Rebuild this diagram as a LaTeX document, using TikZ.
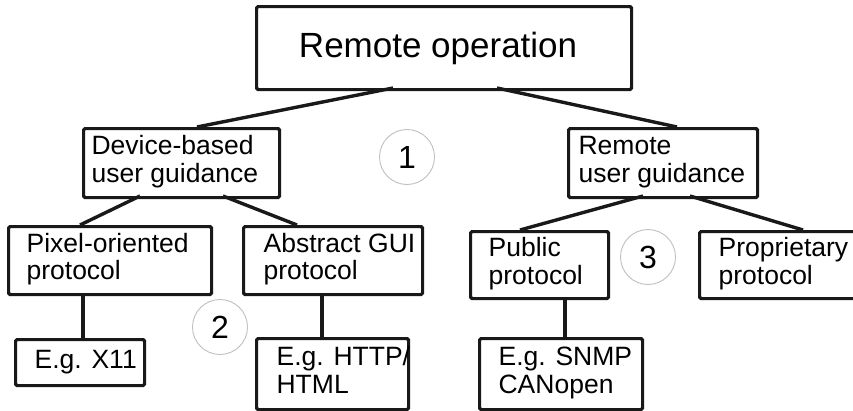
\documentclass[tikz,border=0pt]{standalone}
\usepackage{fontspec}
\setmainfont{Liberation Sans}
% left-padded multi-line label: padding, remaining width, lines
\newcommand{\padtext}[3]{%
  \begin{tabular}{@{\hspace*{#1}}p{#2}@{}}#3\end{tabular}}
\begin{document}
\begin{tikzpicture}[x=1pt,y=-1pt,
  box/.style={draw=black!90, line width=3.2pt, rounded corners=1.5pt, fill=white,
    anchor=north west, inner sep=0pt,
    font=\fontsize{26.5}{27.5}\selectfont},
  link/.style={draw=black!90, line width=3.4pt},
  badge/.style={circle, draw=black!25, line width=0.9pt, minimum size=55pt,
    inner sep=0pt, font=\fontsize{32}{32}\selectfont}]
\useasboundingbox (0,0) rectangle (853,410);

% top node
\node[box, minimum width=375pt, minimum height=83pt,
  font=\fontsize{35}{35}\selectfont] (root) at (255,5) {\hspace*{-12pt}Remote operation};

% second level
\node[box, minimum width=196pt, minimum height=69pt] (dev) at (82,127)
  {\padtext{8pt}{188pt}{Device-based\\user guidance}};
\node[box, minimum width=189pt, minimum height=69pt] (rem) at (567,127)
  {\padtext{10pt}{179pt}{Remote\\user guidance}};

% third level
\node[box, minimum width=203pt, minimum height=68pt] (pix) at (7,225)
  {\padtext{18pt}{185pt}{Pixel-oriented\\protocol}};
\node[box, minimum width=179pt, minimum height=68pt] (abs) at (242,225)
  {\padtext{20pt}{159pt}{\mbox{Abstract GUI}\\protocol}};
\node[box, minimum width=138pt, minimum height=67pt] (pub) at (469,230)
  {\padtext{18pt}{120pt}{Public\\protocol}};
\node[box, minimum width=170pt, minimum height=67pt] (pro) at (698,230)
  {\padtext{19pt}{151pt}{Proprietary\\protocol}};

% leaves
\node[box, minimum width=129pt, minimum height=46pt] (x11) at (14,338)
  {\padtext{19pt}{110pt}{\mbox{E.g. X11}}};
\node[box, minimum width=152pt, minimum height=71pt] (http) at (255,337)
  {\padtext{20pt}{132pt}{\mbox{E.g. HTTP/}\\HTML}};
\node[box, minimum width=163pt, minimum height=71pt] (snmp) at (478,337)
  {\padtext{19pt}{144pt}{\mbox{E.g. SNMP}\\CANopen}};

% connector end points on the box edges
\coordinate (r1) at (393,88);  \coordinate (d1) at (197,127);
\coordinate (r2) at (497,88);  \coordinate (m1) at (677,127);
\coordinate (d2) at (140,196); \coordinate (p1) at (80,225);
\coordinate (d3) at (223,196); \coordinate (a1) at (297,225);
\coordinate (m2) at (643,196); \coordinate (u1) at (520,230);
\coordinate (m3) at (690,196); \coordinate (q1) at (803,230);
\draw[link] (r1) -- (d1);
\draw[link] (r2) -- (m1);
\draw[link] (d2) -- (p1);
\draw[link] (d3) -- (a1);
\draw[link] (m2) -- (u1);
\draw[link] (m3) -- (q1);
\draw[link] (pix.south west -| 83,0) -- (x11.north west -| 83,0);
\draw[link] (abs.south west -| 322,0) -- (http.north west -| 322,0);
\draw[link] (pub.south west -| 565,0) -- (snmp.north west -| 565,0);

% numbered markers
\node[badge] (n1) at (407,157) {1};
\node[badge] (n2) at (220,327) {2};
\node[badge] (n3) at (648,257) {3};
\end{tikzpicture}
\end{document}
